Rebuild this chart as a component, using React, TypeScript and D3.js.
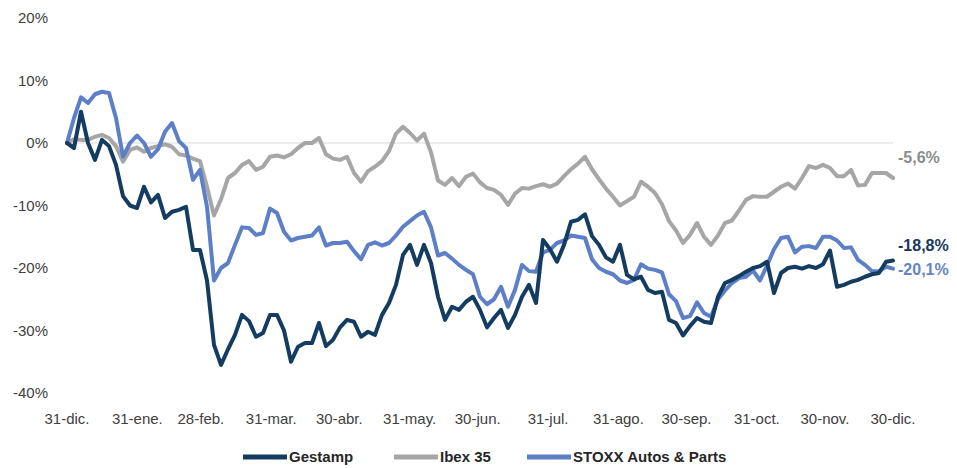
import React from "react";
import * as d3 from "d3";

const startDate = "2021-12-31";
const endDate = "2022-12-30";

const tickDates = [
  "2021-12-31", "2022-01-31", "2022-02-28", "2022-03-31", "2022-04-30", "2022-05-31",
  "2022-06-30", "2022-07-31", "2022-08-31", "2022-09-30", "2022-10-31", "2022-11-30", "2022-12-30",
];
const tickLabels = [
  "31-dic.", "31-ene.", "28-feb.", "31-mar.", "30-abr.", "31-may.",
  "30-jun.", "31-jul.", "31-ago.", "30-sep.", "31-oct.", "30-nov.", "30-dic.",
];
const yTicks = [20, 10, 0, -10, -20, -30, -40];

const gestamp = [
  0, -0.8, 5.0, 0, -2.7, 0.5, -0.5, -3.5, -8.5, -10,
  -10.4, -7, -9.5, -8.3, -12, -11, -10.7, -10.2, -17.1, -17.1,
  -22, -32.3, -35.5, -33, -30.7, -27.5, -28.5, -31, -30.4, -27.5,
  -27.5, -30, -35, -32.6, -32, -32, -28.8, -32.5, -31.5, -29.5,
  -28.3, -28.6, -31, -30.2, -30.7, -27.5, -25.6, -22.7, -17.9, -16.3,
  -19.5, -16.3, -19.2, -24.6, -28.3, -26.2, -26.7, -25.4, -24.6, -26.7,
  -29.5, -28, -26.7, -29.6, -27.5, -24.6, -22.7, -25.6, -15.5, -17,
  -19, -16.3, -12.6, -12.3, -11.4, -14.9, -16.3, -18.3, -19, -16.3,
  -21.1, -21.8, -21.4, -23.5, -24, -23.8, -28.3, -28.8, -30.8, -29.3,
  -28, -28.6, -28.8, -24.6, -22.4, -21.9, -21.3, -20.6, -20, -19.7,
  -19, -24, -20.8, -20, -19.8, -20.1, -19.7, -20, -19.4, -17.2,
  -23, -22.7, -22.2, -21.9, -21.4, -21, -20.8, -19, -18.8,
];

const ibex = [
  0, 0.6, 0.5, 0.5, 1.0, 1.3, 0.8, -0.5, -3.0, -1.1,
  -0.7, -1.4, -0.8, -0.5, -0.2, -0.6, -1.8, -2.0, -2.5, -2.9,
  -7, -11.6, -9, -5.6, -4.8, -3.5, -2.9, -4.3, -3.8, -2.2,
  -2.0, -2.3, -1.8, -0.8, 0, 0, 0.8, -1.8, -2.5, -2.7,
  -2.2, -4.8, -6.2, -4.5, -3.8, -2.9, -1.3, 1.5, 2.6, 1.6,
  0.4, 1.5, -1.5, -6, -6.7, -5.6, -6.9, -5.4, -4.9, -6.3,
  -7.2, -7.5, -8.3, -9.9, -8.1, -7.2, -7.3, -6.9, -6.6, -7.0,
  -6.5, -5.3, -4.2, -3.3, -2.2, -4.2, -5.8, -7.3, -8.6, -10,
  -9.3, -8.6, -6.2, -7.0, -8.0, -9.8, -12.5, -14, -16, -14.7,
  -12.8, -15, -16.3, -14.8, -12.8, -12.4, -10.8, -9.1, -8.5, -8.6,
  -8.6, -7.8, -7.0, -6.5, -7.3, -5.6, -3.7, -4.0, -3.5, -4.0,
  -5.3, -5.3, -4.3, -6.8, -6.7, -4.8, -4.8, -4.8, -5.6,
];

const stoxx = [
  0, 4, 7.3, 6.4, 7.8, 8.2, 8.0, 4.0, -2.2, 0,
  1.2, 0, -2.2, -1.0, 1.8, 3.2, 0.3, -0.8, -5.9, -4.3,
  -10.2, -22, -20, -19.2, -16.3, -13.5, -13.6, -14.7, -14.4, -10.5,
  -11.2, -14.2, -15.6, -15.2, -15, -14.8, -13.5, -16.4, -16.0, -16,
  -15.8, -17.3, -18.6, -16.3, -15.9, -16.4, -16, -14.8, -13.4, -12.5,
  -11.6, -11, -13.5, -18, -17.6, -18.5, -19.5, -20.3, -21, -24.6,
  -25.8, -25, -23, -26.2, -23.5, -19.5, -20.5, -20.6, -17.5, -17.1,
  -16, -15.6, -14.8, -15, -15.2, -18.6, -20, -20.6, -21, -22,
  -22.4, -21.9, -19.4, -20.1, -20.3, -20.7, -24.2, -25.3, -28, -27.7,
  -25.5, -27.2, -27.8, -25, -23.6, -22.4, -21.6, -21.4, -20.4, -22,
  -19.6, -17, -15.2, -15.0, -17.5, -16.6, -16.5, -16.8, -15.0, -15.0,
  -15.6, -16.8, -16.7, -18.7, -19.5, -20.5, -20.5, -19.8, -20.1,
];

const seriesNames = ["Gestamp", "Ibex 35", "STOXX Autos & Parts"];
const endLabels = ["-18,8%", "-5,6%", "-20,1%"];
const colors = ["#143c61", "#a6a6a6", "#5d7fc7"];
const labelColors = ["#17375e", "#8c8c8c", "#6583c5"];

const W = 957;
const H = 468;
const FONT = "'Liberation Sans', Arial, sans-serif";

export default function App() {
  const t0 = new Date(startDate + "T00:00:00");
  const t1 = new Date(endDate + "T00:00:00");
  const x = d3.scaleTime().domain([t0, t1]).range([67, 893]);
  const y = d3.scaleLinear().domain([-40, 20]).range([393, 18]);

  const n = gestamp.length;
  const step = (t1.getTime() - t0.getTime()) / (n - 1);
  const dateAt = (i: number) => new Date(t0.getTime() + i * step);

  const line = d3
    .line<number>()
    .x((_, i) => x(dateAt(i)))
    .y((v) => y(v));

  const all = [gestamp, ibex, stoxx];
  const drawOrder = [1, 2, 0];
  const labelOffsets = [-15, -21, 0.5];

  const legendX = [243, 394, 527];

  return (
    <svg
      width={W}
      height={H}
      style={{ position: "absolute", left: 0, top: 0, background: "#fff" }}
      fontFamily={FONT}
    >
      {yTicks.map((t) => (
        <text
          key={t}
          x={48}
          y={y(t)}
          dy="0.35em"
          textAnchor="end"
          fontSize={15}
          fill="#404040"
        >
          {t + "%"}
        </text>
      ))}
      <line x1={x(t0)} x2={x(t1)} y1={y(0)} y2={y(0)} stroke="#d9d9d9" strokeWidth={1.2} />
      {tickDates.map((d, i) => (
        <text
          key={d}
          x={x(new Date(d + "T00:00:00"))}
          y={424}
          textAnchor="middle"
          fontSize={15}
          fill="#404040"
        >
          {tickLabels[i]}
        </text>
      ))}
      {drawOrder.map((si) => (
        <path
          key={si}
          d={line(all[si]) || ""}
          fill="none"
          stroke={colors[si]}
          strokeWidth={4}
          strokeLinejoin="round"
          strokeLinecap="round"
        />
      ))}
      {all.map((s, si) => {
        const v = s[s.length - 1];
        return (
          <text
            key={si}
            x={898}
            y={y(v) + labelOffsets[si]}
            dy="0.35em"
            fontSize={16}
            fontWeight="bold"
            fill={labelColors[si]}
          >
            {endLabels[si]}
          </text>
        );
      })}
      {seriesNames.map((name, i) => (
        <g key={name}>
          <line
            x1={legendX[i]}
            x2={legendX[i] + 44}
            y1={457}
            y2={457}
            stroke={colors[i]}
            strokeWidth={5}
          />
          <text
            x={legendX[i] + 46}
            y={457}
            dy="0.35em"
            fontSize={15}
            fontWeight="bold"
            fill="#262626"
          >
            {name}
          </text>
        </g>
      ))}
    </svg>
  );
}
